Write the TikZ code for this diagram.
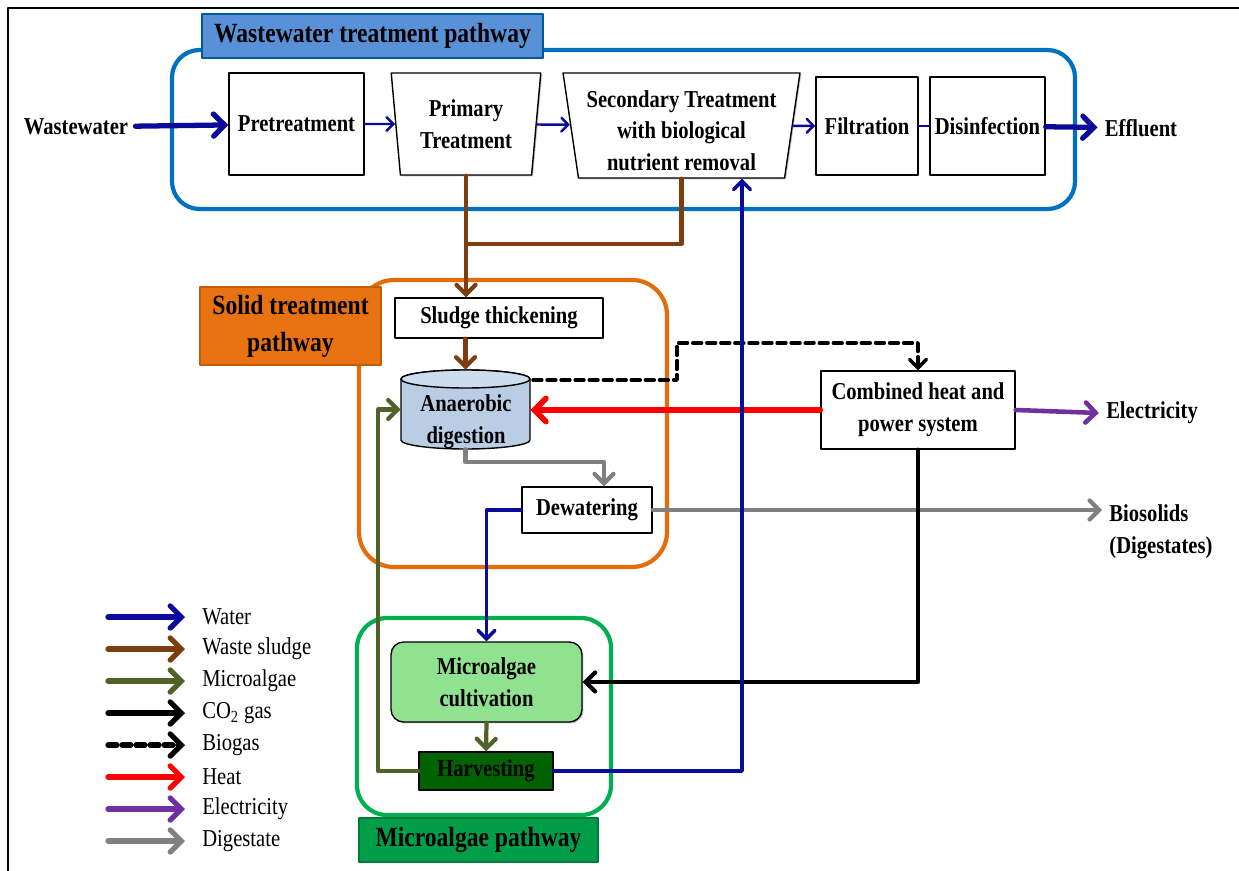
\documentclass[tikz,border=0pt]{standalone}
\usepackage{fontspec}
\setmainfont{Liberation Serif}[FakeStretch=0.85]
\usetikzlibrary{arrows}
\usetikzlibrary{shapes.geometric}
\usetikzlibrary{shadows}

\definecolor{watercol}{RGB}{10,10,155}
\definecolor{sludgecol}{RGB}{125,62,15}
\definecolor{algaecol}{RGB}{79,98,40}
\definecolor{powercol}{RGB}{112,48,160}
\definecolor{digestcol}{RGB}{128,128,128}
\definecolor{wwframecol}{RGB}{0,112,192}
\definecolor{wwtagcol}{RGB}{88,145,215}
\definecolor{solframecol}{RGB}{228,108,10}
\definecolor{soltagcol}{RGB}{232,114,18}
\definecolor{algframecol}{RGB}{0,176,80}
\definecolor{algtagcol}{RGB}{0,158,72}
\definecolor{cylcol}{RGB}{185,205,229}
\definecolor{cyltopcol}{RGB}{205,220,238}
\definecolor{cultcol}{RGB}{144,226,144}
\definecolor{harvcol}{RGB}{0,98,0}

\newcommand{\boxfont}{\fontsize{13.8}{18}\selectfont\bfseries}
\newcommand{\tagfont}{\fontsize{15.8}{21}\selectfont\bfseries}

\begin{document}
\begin{tikzpicture}[x=0.02cm, y=-0.02cm, line cap=round, line join=round,
  box/.style={draw, line width=0.8pt, fill=white, inner sep=1pt, align=center, font=\boxfont,
    drop shadow={shadow xshift=0.8pt, shadow yshift=-0.8pt, opacity=0.45}},
  trap/.style={box, trapezium, shape border rotate=180, trapezium stretches=true},
  outtext/.style={font=\boxfont, inner sep=4pt, align=left},
  legtext/.style={font=\fontsize{13.8}{16}\selectfont, inner sep=0pt},
  tag/.style={draw, line width=1pt, font=\tagfont, align=center, inner sep=1pt},
  frame/.style={line width=2.4pt, rounded corners=0.55cm},
  waterthick/.style={draw=watercol, line width=3pt, -angle 90},
  waterflow/.style={draw=watercol, line width=2pt, -angle 90},
  waterthin/.style={draw=watercol, line width=1.4pt, -angle 90},
  sludgeflow/.style={draw=sludgecol, line width=2.4pt, -angle 90},
  algaeflow/.style={draw=algaecol, line width=2.4pt, -angle 90},
  coflow/.style={draw=black, line width=2.4pt, -angle 90},
  biogasflow/.style={draw=black, line width=2pt, dash pattern=on 5pt off 3pt, -angle 90},
  heatflow/.style={draw=red, line width=3.2pt, -angle 90},
  powerflow/.style={draw=powercol, line width=2.6pt, -angle 90},
  digestflow/.style={draw=digestcol, line width=2.4pt, -angle 90}]

\useasboundingbox (0,0) rectangle (1239,871);

% page frame
\draw[line width=1.6pt] (8,871) -- (8,8) -- (1239,8);

% pathway frames
\draw[frame, draw=wwframecol] (172,50) rectangle (1075,209);
\draw[frame, draw=solframecol, rounded corners=0.7cm] (359,280) rectangle (667,567);
\draw[frame, draw=algframecol, rounded corners=0.6cm] (357,618) rectangle (611,815);

\node[tag, fill=wwtagcol, draw=wwframecol!80!black, minimum width=6.82cm, minimum height=0.88cm] (wwtag) at (372.5,36) {Wastewater treatment pathway};
\node[tag, fill=soltagcol, draw=solframecol!85!black, minimum width=3.62cm, minimum height=1.56cm] (soltag) at (290.5,326) {Solid treatment\\pathway};
\node[tag, fill=algtagcol, draw=algframecol!70!black, minimum width=4.78cm, minimum height=0.88cm] (algtag) at (478.5,840) {Microalgae pathway};

% Wastewater treatment line
\node[outtext] (ww) at (76,127) {Wastewater};
\node[box, minimum width=2.7cm, minimum height=2.04cm] (pre) at (296.5,124) {Pretreatment};
\node[trap, trapezium angle=82.7, minimum width=3cm, minimum height=2.04cm] (prim) at (466,124) {Primary\\Treatment};
\node[trap, trapezium angle=81.3, minimum width=4.74cm, minimum height=2.1cm] (sec) at (681.5,125.5) {\rule{0pt}{15.5pt}Secondary Treatment\\with biological\\nutrient removal};
\node[box, minimum width=2.04cm, minimum height=1.96cm] (filt) at (867,126) {Filtration};
\node[box, minimum width=2.3cm, minimum height=1.96cm] (dis) at (987.5,126) {Disinfection};
\node[outtext] (eff) at (1141,128) {Effluent};

\draw[waterthick] (ww) -- (pre);
\draw[waterthin] (pre) -- (prim);
\draw[waterthin] (prim) -- (sec);
\draw[waterthin] (sec) -- (filt);
\draw[draw=watercol, line width=1.4pt] (filt) -- (dis);
\draw[waterthick] (dis) -- (eff);

% Solid treatment
\node[box, minimum width=4.16cm, minimum height=0.8cm] (sludge) at (499,318) {Sludge thickening};

\draw[fill=cylcol, line width=0.8pt] (401,379) -- (401,440)
  arc[start angle=180, end angle=360, x radius=1.29cm, y radius=0.18cm] -- (530,379)
  arc[start angle=0, end angle=180, x radius=1.29cm, y radius=0.18cm] -- cycle;
\draw[fill=cyltopcol, line width=0.8pt] (465.5,379) ellipse[x radius=1.29cm, y radius=0.18cm];
\node[minimum width=2.58cm, minimum height=1.58cm, inner sep=0pt] (adig) at (465.5,409.5) {};
\node[font=\boxfont, align=center, inner sep=0pt] (adigtxt) at (466,422) {Anaerobic\\digestion};

\node[box, minimum width=2.6cm, minimum height=0.92cm] (dew) at (587,510) {Dewatering};
\node[box, minimum width=3.88cm, minimum height=1.56cm] (chp) at (918,410) {Combined heat and\\power system};
\node[outtext] (elec) at (1152,413) {Electricity};
\node[outtext, anchor=west] (bio) at (1102,532) {Biosolids\\(Digestates)};

\coordinate (sjoin) at (466,244);
\draw[sludgeflow] (prim.south) -- (prim.south |- sludge.north);
\draw[draw=sludgecol, line width=2.4pt] (sec.south) |- (sjoin);
\draw[sludgeflow] (adig.north |- sludge.south) -- (adig.north);

\coordinate (bgout) at (533,380);
\coordinate (bgup) at (677,380);
\draw[biogasflow] (bgout) -- (bgup) -- ++(0,-37) -| (chp.north);
\draw[heatflow] (chp.west) -- (chp.west -| adig.east);
\draw[powerflow] (chp.east) -- (elec.west);

\coordinate (dgturn) at (604,462);
\draw[digestflow] (adig.south) |- (dgturn) -- (dgturn |- dew.north);
\draw[digestflow] (dew.east) -- (dew.east -| bio.west);

% Microalgae pathway
\node[box, rounded corners=0.25cm, fill=cultcol, minimum width=3.82cm, minimum height=1.6cm] (cult) at (486.5,682) {Microalgae\\cultivation};
\node[box, fill=harvcol, minimum width=2.68cm, minimum height=0.76cm] (harv) at (486,771) {Harvesting};

\draw[waterflow] (dew.west) -| (cult.north);
\draw[coflow] (chp.south) |- (cult.east);
\draw[algaeflow] (cult.south) -- (harv.north);
\draw[waterflow] (harv.east) -| ([xshift=1.21cm]sec.south);

\coordinate (recyc) at (378,771);
\draw[algaeflow] (harv.west) -- (recyc) |- (adig.west);

% Legend
\foreach \sty/\txt [count=\i] in {waterflow/Water, sludgeflow/Waste sludge, algaeflow/Microalgae,
  coflow/{CO\textsubscript{2} gas}, biogasflow/Biogas, heatflow/Heat, powerflow/Electricity, digestflow/Digestate}
{
  \coordinate (ls\i) at (108,{585+32*\i});
  \coordinate (le\i) at (185,{585+32*\i});
  \node[legtext, anchor=west] (lt\i) at (202,{585+32*\i}) {\txt};
  \draw[\sty, line width=3pt] (ls\i) -- (le\i);
}

\end{tikzpicture}
\end{document}
